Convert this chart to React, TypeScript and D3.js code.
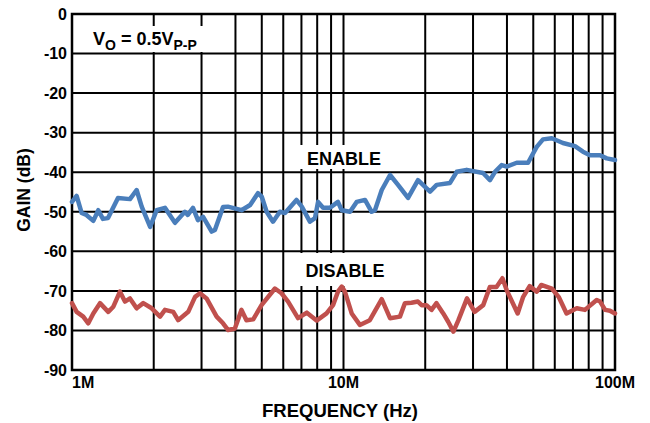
import React from "react";
import * as d3 from "d3";

const yTicks = [0, -10, -20, -30, -40, -50, -60, -70, -80, -90];
const xTickLabels = [
  { f: 1, label: "1M" },
  { f: 10, label: "10M" },
  { f: 100, label: "100M" },
];

// [frequency MHz, gain dB]
const enableData: [number, number][] = [
  [1.0, -47.5], [1.04, -46], [1.085, -50.3], [1.13, -50.8], [1.198, -52.3], [1.25, -49.6],
  [1.3, -51.8], [1.357, -51.6], [1.477, -46.5], [1.635, -46.8], [1.73, -44.5], [1.806, -48.7],
  [1.94, -53.8], [2.05, -49.6], [2.2, -49], [2.395, -52.8], [2.605, -50], [2.67, -50.8],
  [2.79, -49], [2.91, -52.1], [3.04, -51.3], [3.27, -55], [3.36, -54.6], [3.6, -48.8],
  [3.75, -48.7], [4.21, -49.6], [4.53, -48.3], [4.84, -45.3], [5.0, -46.2], [5.21, -50],
  [5.5, -52.5], [5.83, -50], [6.09, -50.3], [6.71, -47], [7.02, -48.7], [7.52, -52.5],
  [7.85, -51.6], [8.06, -47.5], [8.41, -49], [8.92, -49], [9.54, -47.5], [9.85, -49.6],
  [10.57, -50], [11.18, -47.5], [12.0, -47], [12.7, -50], [13.06, -49.6], [13.83, -44.5],
  [14.84, -40.7], [15.88, -43.2], [17.29, -46.5], [18.81, -42], [20.83, -44.9], [22.04, -43.2],
  [24.68, -42.7], [26.12, -39.9], [28.43, -39.4], [32.65, -40.2], [34.64, -42], [36.14, -39.9],
  [38.25, -38.2], [39.92, -38.6], [43.45, -37.6], [47.83, -37.6], [51.48, -33.6], [54.3, -31.7],
  [58.5, -31.4], [64.3, -32.6], [71.2, -33.4], [76.2, -34.8], [80.9, -35.7], [88.1, -35.7],
  [93.2, -36.5], [100, -36.9],
];

const disableData: [number, number][] = [
  [1.0, -73.1], [1.04, -75.3], [1.1, -76.5], [1.148, -78.2], [1.198, -75.7], [1.268, -73.1],
  [1.36, -75.3], [1.42, -74.0], [1.502, -70.2], [1.567, -72.7], [1.635, -71.9], [1.73, -74.4],
  [1.83, -73.1], [1.966, -74.4], [2.11, -76.5], [2.2, -74.8], [2.36, -75.3], [2.46, -77.4],
  [2.68, -75.3], [2.84, -71.5], [2.96, -70.6], [3.13, -71.9], [3.41, -76.5], [3.6, -78.2],
  [3.76, -79.9], [3.98, -79.5], [4.21, -74.8], [4.39, -77.4], [4.65, -77.2], [4.99, -73.6],
  [5.59, -69.4], [5.91, -70.6], [6.25, -72.7], [6.8, -76.9], [7.33, -75.5], [7.96, -77.5],
  [8.66, -75.7], [9.15, -73.6], [9.54, -70.2], [9.85, -68.9], [10.12, -70.2], [10.72, -75.7],
  [11.49, -78.6], [12.5, -77.4], [13.83, -72.1], [14.84, -76.9], [16.14, -76.5], [16.83, -73.1],
  [17.8, -73.0], [18.8, -72.7], [19.4, -73.6], [20.2, -73.6], [21.1, -74.8], [22.0, -73.1],
  [23.3, -75.7], [24.3, -77.8], [25.4, -80.3], [26.5, -77.4], [28.5, -71.9], [30.4, -75.3],
  [32.7, -73.6], [34.6, -69.0], [36.6, -69.0], [38.5, -66.8], [39.9, -69.8], [43.8, -75.7],
  [45.9, -71.5], [48.5, -68.8], [51.5, -70.2], [53.5, -68.5], [58.5, -69.4], [62.0, -71.5],
  [66.3, -75.7], [72.3, -74.4], [77.5, -74.8], [85.6, -72.3], [88.1, -72.7], [92.0, -74.8],
  [95.8, -75.0], [100, -75.7],
];

const gridFreqs: number[] = [];
[1, 10].forEach((d) => {
  for (let k = 2; k <= 9; k++) gridFreqs.push(d * k);
});
gridFreqs.push(10);

const W = 650;
const H = 423;
const L = 72;
const R = 615;
const T = 14;
const B = 370;

export default function App() {
  const x = d3.scaleLog().domain([1, 100]).range([L, R]);
  const y = d3.scaleLinear().domain([-90, 0]).range([B, T]);
  const line = d3
    .line<[number, number]>()
    .x((d) => x(d[0]))
    .y((d) => y(d[1]))
    .curve(d3.curveLinear);
  const font = "Liberation Sans, Arial, Helvetica, sans-serif";

  return (
    <svg
      width={W}
      height={H}
      style={{ position: "absolute", left: 0, top: 0, background: "#fff" }}
      fontFamily={font}
      fontWeight="bold"
    >
      <rect x={0} y={0} width={W} height={H} fill="#fff" />
      {/* grid */}
      {yTicks.map((t) => (
        <line key={"h" + t} x1={L} x2={R} y1={y(t)} y2={y(t)} stroke="#000" strokeWidth={2} />
      ))}
      {gridFreqs.map((f) => (
        <line key={"v" + f} x1={x(f)} x2={x(f)} y1={T} y2={B} stroke="#000" strokeWidth={2} />
      ))}
      <rect x={L} y={T} width={R - L} height={B - T} fill="none" stroke="#000" strokeWidth={2.5} />

      {/* label boxes */}
      <rect x={86} y={26} width={126} height={26} fill="#fff" />
      <rect x={290} y={145} width={104} height={24} fill="#fff" />
      <rect x={290} y={253} width={108} height={33} fill="#fff" />

      {/* data */}
      <path d={line(enableData) || ""} fill="none" stroke="#4a7ebb" strokeWidth={4.5} strokeLinejoin="round" strokeLinecap="round" />
      <path d={line(disableData) || ""} fill="none" stroke="#c0504d" strokeWidth={4.5} strokeLinejoin="round" strokeLinecap="round" />

      {/* y tick labels */}
      {yTicks.map((t) => (
        <text key={"yl" + t} x={L - 5} y={y(t)} dy="0.36em" textAnchor="end" fontSize={16} fill="#000">
          {t}
        </text>
      ))}
      {/* x tick labels */}
      {xTickLabels.map((t, i) => (
        <text
          key={"xl" + t.label}
          x={x(t.f)}
          y={388}
          textAnchor={i === 0 ? "start" : "middle"}
          fontSize={16}
          fill="#000"
        >
          {t.label}
        </text>
      ))}

      <text x={340} y={417} textAnchor="middle" fontSize={18.5} fill="#000">
        FREQUENCY (Hz)
      </text>
      <text transform={`translate(30, 190) rotate(-90)`} textAnchor="middle" fontSize={17.5} fill="#000">
        GAIN (dB)
      </text>

      <text x={93} y={45} fontSize={18} fill="#000">
        V<tspan fontSize={14} dy={4.5}>O</tspan>
        <tspan dy={-4.5}> = 0.5V</tspan>
        <tspan fontSize={14} dy={4.5}>P-P</tspan>
      </text>
      <text x={344} y={164.5} textAnchor="middle" fontSize={18} fill="#000">
        ENABLE
      </text>
      <text x={345} y={276.5} textAnchor="middle" fontSize={18} fill="#000">
        DISABLE
      </text>
    </svg>
  );
}
